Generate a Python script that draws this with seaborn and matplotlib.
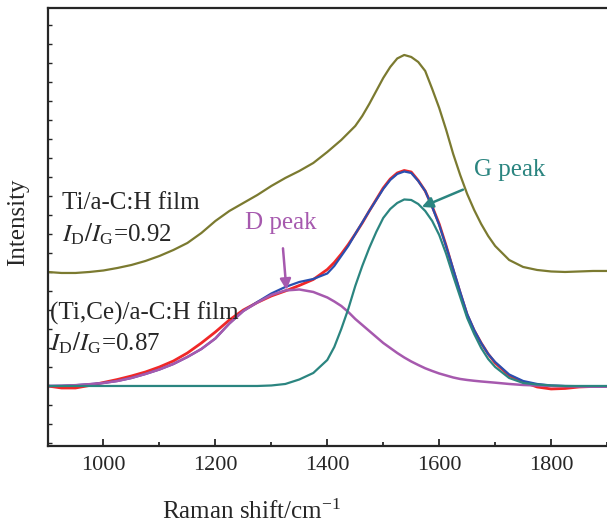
import numpy as np
import pandas as pd
import matplotlib
matplotlib.use("Agg")
import matplotlib.pyplot as plt
import seaborn as sns
from matplotlib.ticker import MultipleLocator

# Raman shift axis (cm-1): 25 cm-1 steps, 12.5 cm-1 steps around the G band
shift = ([900, 925, 950, 975, 1000, 1025, 1050, 1075, 1100, 1125, 1150, 1175,
          1200, 1225, 1250, 1275, 1300, 1325, 1350, 1375]
         + [1400, 1412.5, 1425, 1437.5, 1450, 1462.5, 1475, 1487.5, 1500, 1512.5,
            1525, 1537.5, 1550, 1562.5, 1575, 1587.5, 1600, 1612.5, 1625, 1637.5,
            1650, 1662.5, 1675, 1687.5, 1700]
         + [1725, 1750, 1775, 1800, 1825, 1850, 1875, 1900])

# Ti/a-C:H film spectrum (offset upwards)
ti_film = ([174, 173, 173, 174, 175.5, 178, 181, 185, 190, 196, 203, 213, 225, 235,
            243, 251, 260, 268, 275, 283]
           + [294, 300, 306, 313, 320, 330, 342, 355, 368, 379, 387.5, 391, 389, 384,
              375, 357, 338, 316, 292, 271, 252, 236, 222, 210, 200]
           + [186, 179, 176, 174.5, 174, 174.5, 175, 175])

# (Ti,Ce)/a-C:H film: measured spectrum
tice_raw = ([60, 58, 58, 60.5, 63.5, 66.5, 70, 74, 79, 85, 93, 103, 114, 126,
             136, 143.5, 150, 155, 160.5, 166.5]
            + [176.5, 183.5, 192, 201.5, 212, 223, 235, 246.5, 258, 267, 273, 275.5,
               274, 265.5, 255, 239.5, 222, 200, 176, 153, 131, 115.5, 103, 92, 83]
            + [70.5, 64, 59, 57, 57.5, 59, 59.5, 59.5])

# fitted envelope
tice_fit = ([60, 60.2, 60.8, 61.8, 63, 65, 68, 72, 76.5, 82, 89, 97, 107.5, 122.5,
             135, 144, 152.5, 159, 164, 167]
            + [172.5, 180, 190, 200, 212, 223.5, 235, 246, 257, 266, 272, 274.5,
               273, 265, 255, 239, 221, 199.5, 177, 154, 132, 116, 103, 92, 84]
            + [71.5, 65, 62, 60.5, 60, 59.8, 59.7, 59.7])

# D peak component
d_peak = ([60, 60.2, 60.8, 61.8, 63, 65, 68, 72, 76.5, 82, 89, 97, 107.5, 122.5,
           135, 143.5, 151, 155.5, 156.5, 154]
          + [148.5, 144.5, 140, 134, 127, 121, 115, 109, 103, 98, 93, 88.5, 84.5, 81,
             77.7, 75, 72.5, 70.5, 68.5, 67, 66, 65.2, 64.5, 63.9, 63.3]
          + [62, 61, 60.5, 60, 59.7, 59.5, 59.3, 59.3])

# G peak component
g_peak = ([60, 60, 60, 60, 60, 60, 60, 60, 60, 60, 60, 60, 60, 60,
           60, 60, 60.5, 62, 66.5, 73]
          + [86, 99, 117, 137, 160, 180, 198, 214, 228, 237, 243, 246.5, 246, 242,
             235, 225, 211, 192, 170, 149, 128, 112, 98, 87, 79]
          + [68, 63, 61.5, 60.5, 60, 60, 60, 60])

df = pd.DataFrame({"shift": shift, "ti": ti_film, "raw": tice_raw,
                   "fit": tice_fit, "D": d_peak, "G": g_peak})

sns.set_style("ticks")
plt.rcParams["font.family"] = ["Liberation Serif", "DejaVu Serif"]
plt.rcParams["mathtext.fontset"] = "stix"

fig = plt.figure(figsize=(6.07, 5.24), dpi=100)
ax = fig.add_axes([0.0783, 0.1489, 0.9218, 0.8359])

olive = "#7b7a30"
red = "#f02828"
blue = "#2a4fb0"
purple = "#a659ae"
teal = "#2b8580"

lw = 1.6
sns.lineplot(data=df, x="shift", y="ti", color=olive, lw=lw, ax=ax)
sns.lineplot(data=df, x="shift", y="raw", color=red, lw=lw + 0.4, ax=ax)
sns.lineplot(data=df, x="shift", y="fit", color=blue, lw=lw, ax=ax)
sns.lineplot(data=df, x="shift", y="D", color=purple, lw=lw + 0.2, ax=ax)
sns.lineplot(data=df, x="shift", y="G", color=teal, lw=lw, ax=ax)

ax.set_xlim(900, 1900)
ax.set_ylim(0, 438)

ax.xaxis.set_major_locator(MultipleLocator(200))
ax.xaxis.set_minor_locator(MultipleLocator(100))
ax.set_yticks(np.arange(3, 438, 19))
ax.tick_params(axis="x", which="major", direction="in", length=5, width=1.3,
               labelsize=16, pad=7)
ax.tick_params(axis="x", which="minor", direction="in", length=3, width=1.3)
ax.tick_params(axis="y", direction="in", length=3, width=1.0, labelleft=False)

for side in ["left", "bottom", "top"]:
    ax.spines[side].set_linewidth(1.6)
ax.spines["right"].set_visible(False)

ax.set_xlabel("")
ax.set_ylabel("")
fig.text(252 / 607, 1 - 512 / 524, "Raman shift/cm$^{\\mathregular{-1}}$", fontsize=18,
         ha="center", va="center")
fig.text(18 / 607, 1 - 222 / 524, "Intensity", fontsize=18, rotation=90,
         ha="center", va="center")

# film labels
fs = 18
ax.text(926, 243, "Ti/a-C:H film", fontsize=fs, ha="left", va="center")
ax.text(926, 212, "$I_{\\mathregular{D}}/I_{\\mathregular{G}}$=0.92", fontsize=fs,
        ha="left", va="center")
ax.text(904, 133, "(Ti,Ce)/a-C:H film", fontsize=fs, ha="left", va="center")
ax.text(904, 103, "$I_{\\mathregular{D}}/I_{\\mathregular{G}}$=0.87", fontsize=fs,
        ha="left", va="center")

# peak annotations
ax.annotate("D peak", xy=(1327, 156), xytext=(1317, 223), color=purple, fontsize=fs,
            ha="center", va="center",
            arrowprops=dict(arrowstyle="-|>", color=purple, lw=1.8, mutation_scale=16,
                            shrinkA=8, shrinkB=0))
ax.annotate("G peak", xy=(1569, 239), xytext=(1726, 276), color=teal, fontsize=fs,
            ha="center", va="center",
            arrowprops=dict(arrowstyle="-|>", color=teal, lw=1.8, mutation_scale=16,
                            shrinkA=10, shrinkB=0))

fig.savefig("out.png", dpi=100)
